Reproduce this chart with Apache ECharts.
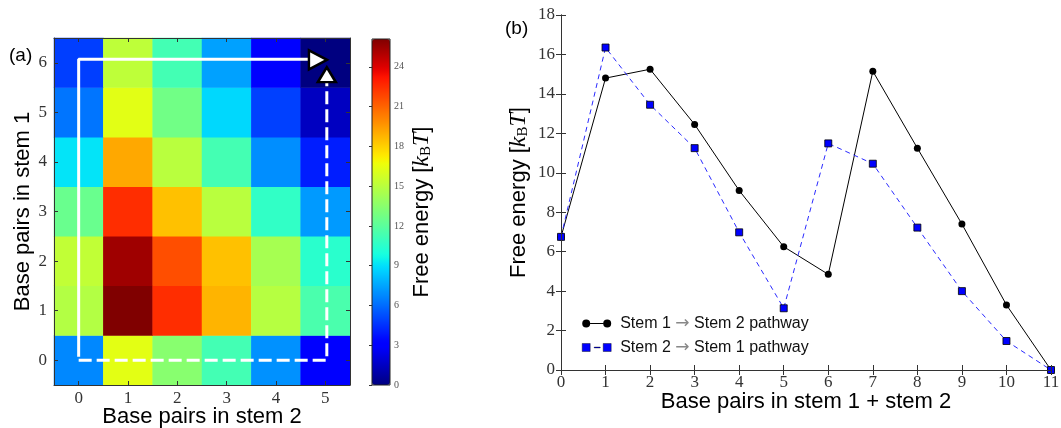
<!DOCTYPE html>
<html><head><meta charset="utf-8">
<script src="https://cdn.jsdelivr.net/npm/echarts@6/dist/echarts.min.js"></script>
<style>html,body{margin:0;padding:0;background:#fff}#c{width:1061px;height:428px}</style>
</head><body><div id="c"></div>
<script>
// ---------- data ----------
const stem2Ticks = ['0','1','2','3','4','5'];
const stem1Ticks = ['0','1','2','3','4','5','6'];
// free energy [kBT], rows = base pairs in stem 1 (0..6), cols = base pairs in stem 2 (0..5)
const energyRow0 = [6.75, 16.35, 13.45, 11.25, 6.98, 3.13];
const energyRow1 = [14.8, 26.1, 22.5, 18.8, 14.9, 11.49];
const energyRow2 = [15.25, 25.4, 21.6, 18.4, 14.4, 10.46];
const energyRow3 = [12.45, 22.5, 18.4, 15.0, 10.7, 7.22];
const energyRow4 = [9.1, 19.1, 15.0, 11.3, 6.9, 4.0];
const energyRow5 = [6.25, 16.3, 12.7, 8.8, 4.9, 1.47];
const energyRow6 = [4.85, 15.15, 11.25, 7.4, 3.3, 0.0];
const energyRows = [energyRow0, energyRow1, energyRow2, energyRow3, energyRow4, energyRow5, energyRow6];
const colorbarMin = 0, colorbarMax = 26.1;

// folding pathway annotations (stem2, stem1 coordinates)
const pathStem1First = [[0, 0.07], [0, 6.07], [4.7, 6.07]];
const pathStem2First = [[0, 0], [5.03, 0], [5.03, 5.6]];
const arrowHeadRight = [[4.85, 6.06]];
const arrowHeadUp = [[5.03, 5.76]];

// panel (b)
const totalBasePairs = [0,1,2,3,4,5,6,7,8,9,10,11];
const stem1ThenStem2 = [6.75, 14.8, 15.25, 12.45, 9.1, 6.25, 4.85, 15.15, 11.25, 7.4, 3.3, 0];
const stem2ThenStem1 = [6.75, 16.35, 13.45, 11.25, 6.98, 3.13, 11.49, 10.46, 7.22, 4.0, 1.47, 0];
const seriesNames = ['Stem 1 \u2192 Stem 2 pathway', 'Stem 2 \u2192 Stem 1 pathway'];

// ---------- helpers ----------
function interp(pts, t) {
  for (let i = 1; i < pts.length; i++) {
    if (t <= pts[i][0]) {
      const a = pts[i-1], b = pts[i];
      return a[1] + (b[1]-a[1]) * (t - a[0]) / (b[0] - a[0]);
    }
  }
  return pts[pts.length-1][1];
}
function jet(t) {
  const r = interp([[0,0],[0.35,0],[0.66,1],[0.89,1],[1,0.5]], t);
  const g = interp([[0,0],[0.125,0],[0.375,1],[0.64,1],[0.91,0],[1,0]], t);
  const b = interp([[0,0.5],[0.11,1],[0.34,1],[0.65,0],[1,0]], t);
  const h = v => Math.round(Math.max(0, Math.min(1, v)) * 255).toString(16).padStart(2, '0');
  return '#' + h(r) + h(g) + h(b);
}
const jetStops = [];
for (let i = 0; i <= 64; i++) jetStops.push(jet(i / 64));

const heatData = [];
energyRows.forEach((row, s1) => row.forEach((v, s2) => heatData.push([s2, s1, v])));

const SANS = 'Liberation Sans, Arial, sans-serif';
const SERIF = 'Liberation Serif, Times New Roman, serif';
const AX = '#333';
const labelRich = {
  i: { fontFamily: SERIF, fontStyle: 'italic', fontSize: 24 },
  s: { fontFamily: SERIF, fontSize: 15, padding: [8, 0, 0, 0] }
};
const energyTitle = 'Free energy [{i|k}{s|B}{i|T}]';

const tickIn = (len) => ({ show: true, inside: true, length: len, lineStyle: { color: AX, width: 1 } });
const line = { show: true, lineStyle: { color: AX, width: 1 } };
const gridBase = { outerBoundsMode: 'none', containLabel: false };

const chart = echarts.init(document.getElementById('c'), null, { renderer: 'canvas' });
chart.setOption({
  animation: false,
  backgroundColor: '#fff',
  grid: [
    Object.assign({ left: 54, top: 38, width: 296, height: 347 }, gridBase),
    Object.assign({ left: 54, top: 38, width: 296, height: 347 }, gridBase),
    Object.assign({ left: 372, top: 39, width: 18, height: 346, show: true, z: 10, backgroundColor: 'transparent', borderColor: '#222', borderWidth: 1 }, gridBase),
    Object.assign({ left: 561, top: 15, width: 490, height: 355 }, gridBase)
  ],
  xAxis: [
    { gridIndex: 0, type: 'category', data: stem2Ticks, position: 'bottom', z: 10,
      axisLine: line, axisTick: Object.assign(tickIn(4), { alignWithLabel: true }),
      axisLabel: { fontFamily: SERIF, fontSize: 17, color: AX, margin: 5 },
      name: 'Base pairs in stem 2', nameLocation: 'middle', nameGap: 21, nameMoveOverlap: false,
      nameTextStyle: { fontFamily: SANS, fontSize: 22, color: '#000', verticalAlign: 'top' } },
    { gridIndex: 0, type: 'category', data: stem2Ticks, position: 'top', z: 10,
      axisLine: line, axisTick: Object.assign(tickIn(4), { alignWithLabel: true }), axisLabel: { show: false } },
    { gridIndex: 1, type: 'value', min: -0.5, max: 5.5, show: false },
    { gridIndex: 2, type: 'value', min: 0, max: 1, show: false },
    { gridIndex: 3, type: 'value', min: 0, max: 11, interval: 1, position: 'bottom', z: 10,
      axisLine: line, axisTick: tickIn(5), splitLine: { show: false },
      axisLabel: { fontFamily: SERIF, fontSize: 17, color: AX, margin: 4 },
      name: 'Base pairs in stem 1 + stem 2', nameLocation: 'middle', nameGap: 21, nameMoveOverlap: false,
      nameTextStyle: { fontFamily: SANS, fontSize: 22, color: '#000', verticalAlign: 'top' } },
    { gridIndex: 3, type: 'value', min: 0, max: 11, interval: 1, position: 'top', z: 10,
      axisLine: line, axisTick: tickIn(5), splitLine: { show: false }, axisLabel: { show: false } }
  ],
  yAxis: [
    { gridIndex: 0, type: 'category', data: stem1Ticks, position: 'left', z: 10,
      axisLine: line, axisTick: Object.assign(tickIn(4), { alignWithLabel: true }),
      axisLabel: { fontFamily: SERIF, fontSize: 17, color: AX, margin: 7 },
      name: 'Base pairs in stem 1', nameLocation: 'middle', nameGap: 20, nameRotate: 90, nameMoveOverlap: false,
      nameTextStyle: { fontFamily: SANS, fontSize: 22, color: '#000' } },
    { gridIndex: 0, type: 'category', data: stem1Ticks, position: 'right', z: 10,
      axisLine: line, axisTick: Object.assign(tickIn(4), { alignWithLabel: true }), axisLabel: { show: false } },
    { gridIndex: 1, type: 'value', min: -0.5, max: 6.5, show: false },
    { gridIndex: 2, type: 'value', min: colorbarMin, max: colorbarMax, interval: 3, position: 'right', z: 11,
      axisLine: { show: false }, axisTick: tickIn(3), splitLine: { show: false },
      axisLabel: { fontFamily: SERIF, fontSize: 10, color: '#555', margin: 4, showMaxLabel: false },
      name: energyTitle, nameLocation: 'middle', nameGap: 20, nameRotate: 90, nameMoveOverlap: false,
      nameTextStyle: { fontFamily: SANS, fontSize: 22, color: '#000', rich: labelRich } },
    { gridIndex: 3, type: 'value', min: 0, max: 18, interval: 2, position: 'left', z: 10,
      axisLine: line, axisTick: tickIn(5), splitLine: { show: false },
      axisLabel: { fontFamily: SERIF, fontSize: 17, color: AX, margin: 6 },
      name: energyTitle, nameLocation: 'middle', nameGap: 30, nameRotate: 90, nameMoveOverlap: false,
      nameTextStyle: { fontFamily: SANS, fontSize: 22, color: '#000', rich: labelRich } },
    { gridIndex: 3, type: 'value', min: 0, max: 18, interval: 2, position: 'right', z: 10,
      axisLine: line, axisTick: tickIn(5), splitLine: { show: false }, axisLabel: { show: false } }
  ],
  visualMap: {
    type: 'continuous', seriesIndex: 0, min: colorbarMin, max: colorbarMax,
    inRange: { color: jetStops }, calculable: false, hoverLink: false,
    orient: 'vertical', left: 372, top: 39, itemWidth: 18, itemHeight: 346, padding: 0,
    text: ['', ''], showLabel: false, textStyle: { fontSize: 1 }
  },
  legend: {
    orient: 'vertical', left: 577, top: 310, itemWidth: 29, itemHeight: 8, itemGap: 7,
    data: [
      { name: seriesNames[0], icon: 'path://M0,4a4,4 0 1,0 8,0a4,4 0 1,0 -8,0zM8,3.5h13v1h-13zM21,4a4,4 0 1,0 8,0a4,4 0 1,0 -8,0z' },
      { name: seriesNames[1], icon: 'path://M0,0h8v8h-8zM12,3.6h6v0.8h-6zM21,0h8v8h-8z', itemStyle: { borderWidth: 0.4 } }
    ],
    formatter: n => n.replace('\u2192', '{a|\u2192}'),
    textStyle: { fontFamily: SANS, fontSize: 16, color: '#111', padding: [0, 0, 0, 4],
      rich: { a: { color: '#888', fontFamily: 'DejaVu Sans', fontSize: 17 } } }
  },
  graphic: [
    { type: 'text', left: 9, top: 46, style: { text: '(a)', font: '19px ' + SANS, fill: '#000' } },
    { type: 'text', left: 505, top: 19, style: { text: '(b)', font: '19px ' + SANS, fill: '#000' } }
  ],
  series: [
    { type: 'heatmap', xAxisIndex: 0, yAxisIndex: 0, data: heatData, itemStyle: { borderWidth: 0 }, emphasis: { disabled: true } },
    { type: 'line', xAxisIndex: 2, yAxisIndex: 2, data: pathStem1First, symbol: 'none', z: 5,
      lineStyle: { color: '#fff', width: 3 } },
    { type: 'line', xAxisIndex: 2, yAxisIndex: 2, data: pathStem2First, symbol: 'none', z: 5,
      lineStyle: { color: '#fff', width: 3, type: [13, 5] } },
    { type: 'scatter', xAxisIndex: 2, yAxisIndex: 2, data: arrowHeadRight, symbol: 'triangle', symbolRotate: -90,
      symbolSize: [19, 18], z: 6, itemStyle: { color: '#fff', borderColor: '#000', borderWidth: 2.5, opacity: 1 } },
    { type: 'scatter', xAxisIndex: 2, yAxisIndex: 2, data: arrowHeadUp, symbol: 'triangle',
      symbolSize: [18, 15], z: 6, itemStyle: { color: '#fff', borderColor: '#000', borderWidth: 2.5, opacity: 1 } },
    { type: 'line', name: seriesNames[0], xAxisIndex: 4, yAxisIndex: 5,
      data: totalBasePairs.map((x, i) => [x, stem1ThenStem2[i]]),
      symbol: 'circle', symbolSize: 7, showAllSymbol: true,
      lineStyle: { color: '#000', width: 1 }, itemStyle: { color: '#000' } },
    { type: 'line', name: seriesNames[1], xAxisIndex: 4, yAxisIndex: 5,
      data: totalBasePairs.map((x, i) => [x, stem2ThenStem1[i]]),
      symbol: 'rect', symbolSize: 7, showAllSymbol: true,
      lineStyle: { color: '#2a2aff', width: 1, type: [5, 4] },
      itemStyle: { color: '#0000ff', borderColor: '#000', borderWidth: 0.8 } }
  ]
});
</script>
</body></html>
